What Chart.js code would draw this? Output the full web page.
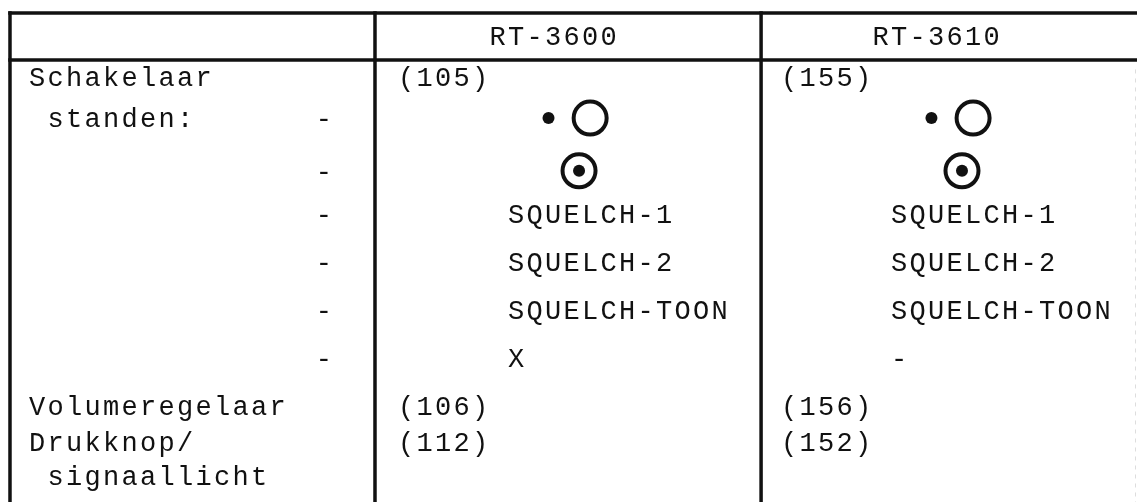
<!DOCTYPE html>
<html lang="nl">
<head>
<meta charset="utf-8">
<title>Schakelaarstanden RT-3600 / RT-3610</title>
<script src="https://cdn.jsdelivr.net/npm/chart.js@4.4.1/dist/chart.umd.min.js"></script>
<style>
  html, body { margin: 0; padding: 0; background: #fff; }
  #wrap { width: 1137px; height: 502px; }
</style>
</head>
<body>
<div id="wrap"><canvas id="tabel" width="1137" height="502"></canvas></div>
<script>
// Kolomkoppen
const headers = ['RT-3600', 'RT-3610'];

// Eerste kolom, regel voor regel
const partLabels = ['Schakelaar', ' standen:', '', '', '', '', '', 'Volumeregelaar', 'Drukknop/', ' signaallicht'];
const dashMarks = ['', '-', '-', '-', '-', '-', '-', '', '', ''];

// Referentienummers per toestel
const rt3600Refs = ['(105)', '', '', '', '', '', '', '(106)', '(112)', ''];
const rt3610Refs = ['(155)', '', '', '', '', '', '', '(156)', '(152)', ''];

// Standen per toestel ('•○' en '⊙' worden als symbool getekend)
const rt3600Pos = ['', '•○', '⊙', 'SQUELCH-1', 'SQUELCH-2', 'SQUELCH-TOON', 'X', '', '', ''];
const rt3610Pos = ['', '•○', '⊙', 'SQUELCH-1', 'SQUELCH-2', 'SQUELCH-TOON', '-', '', '', ''];

// Regel waarop elke rij staat (in halve typmachineregels)
const rowLines = [3.3, 5, 7.2, 9, 11, 13, 15, 17, 18.5, 19.9];

// Opmaak: x in tekenposities, y in halve regels
const LABEL_COL = 1.5;
const DASH_COL = 17;
const HEAD_COL = [26.4, 47.1];
const REF_COL = [21.45, 42.15];
const POS_COL = [27.4, 48.1];
const HEAD_LINE = 1.58;
const RULE_X = [0.54, 20.27, 41.14];
const RULE_Y = [0.62, 2.58];
const FONT_SIZE = 27;
const INK = '#111';

// Symbolen omzetten naar punten voor Chart.js
const rings = [];
const dots = [];
[rt3600Pos, rt3610Pos].forEach((col, c) => {
    col.forEach((val, r) => {
        if (val === '•○') {
            dots.push({ x: POS_COL[c] + 2.25, y: rowLines[r] });
            rings.push({ x: POS_COL[c] + 4.5, y: rowLines[r] });
        } else if (val === '⊙') {
            rings.push({ x: POS_COL[c] + 3.9, y: rowLines[r] });
            dots.push({ x: POS_COL[c] + 3.9, y: rowLines[r] });
        }
    });
});

// Tekst teken voor teken, zoals een typmachine
function typeText(ctx, xScale, yScale, text, col, line) {
    if (!text || text === '•○' || text === '⊙') return;
    const base = yScale.getPixelForValue(line) + FONT_SIZE * 0.33;
    for (let i = 0; i < text.length; i++) {
        if (text[i] === ' ') continue;
        ctx.fillText(text[i], xScale.getPixelForValue(col + i + 0.5), base);
    }
}

const tablePlugin = {
    id: 'tablePlugin',
    beforeDatasetsDraw(chart) {
        const { ctx, scales: { x, y } } = chart;
        ctx.save();
        ctx.strokeStyle = INK;
        ctx.lineWidth = 3.5;
        ctx.lineCap = 'square';
        RULE_Y.forEach(v => {
            ctx.beginPath();
            ctx.moveTo(x.getPixelForValue(RULE_X[0]), y.getPixelForValue(v));
            ctx.lineTo(x.getPixelForValue(x.max), y.getPixelForValue(v));
            ctx.stroke();
        });
        RULE_X.forEach(v => {
            ctx.beginPath();
            ctx.moveTo(x.getPixelForValue(v), y.getPixelForValue(RULE_Y[0]));
            ctx.lineTo(x.getPixelForValue(v), y.getPixelForValue(y.max) + 4);
            ctx.stroke();
        });
        // vage rechterrand
        ctx.strokeStyle = '#ddd';
        ctx.lineWidth = 1;
        ctx.setLineDash([3, 6]);
        ctx.beginPath();
        ctx.moveTo(x.getPixelForValue(x.max) - 1.5, y.getPixelForValue(RULE_Y[1]) + 10);
        ctx.lineTo(x.getPixelForValue(x.max) - 1.5, y.getPixelForValue(y.max));
        ctx.stroke();
        ctx.restore();
    },
    afterDatasetsDraw(chart) {
        const { ctx, scales: { x, y } } = chart;
        ctx.save();
        ctx.fillStyle = INK;
        ctx.font = FONT_SIZE + 'px "Liberation Mono", "DejaVu Sans Mono", monospace';
        ctx.textAlign = 'center';
        ctx.textBaseline = 'alphabetic';

        headers.forEach((h, c) => typeText(ctx, x, y, h, HEAD_COL[c], HEAD_LINE));

        rowLines.forEach((line, r) => {
            typeText(ctx, x, y, partLabels[r], LABEL_COL, line);
            typeText(ctx, x, y, dashMarks[r], DASH_COL, line);
            typeText(ctx, x, y, rt3600Refs[r], REF_COL[0], line);
            typeText(ctx, x, y, rt3610Refs[r], REF_COL[1], line);
            typeText(ctx, x, y, rt3600Pos[r], POS_COL[0], line);
            typeText(ctx, x, y, rt3610Pos[r], POS_COL[1], line);
        });
        ctx.restore();
    }
};

new Chart(document.getElementById('tabel'), {
    type: 'scatter',
    data: {
        datasets: [
            {
                label: 'ring',
                data: rings,
                pointStyle: 'circle',
                pointRadius: 16.5,
                pointBorderWidth: 4,
                pointBackgroundColor: 'rgba(0,0,0,0)',
                pointBorderColor: INK
            },
            {
                label: 'punt',
                data: dots,
                pointStyle: 'circle',
                pointRadius: 6,
                pointBorderWidth: 0,
                pointBackgroundColor: INK,
                pointBorderColor: INK
            }
        ]
    },
    options: {
        responsive: false,
        animation: false,
        devicePixelRatio: 1,
        layout: { padding: 0, autoPadding: false },
        plugins: {
            legend: { display: false },
            tooltip: { enabled: false }
        },
        scales: {
            x: { type: 'linear', min: 0, max: 61.46, display: false },
            y: { type: 'linear', min: 0.08, max: 21.0, reverse: true, display: false }
        }
    },
    plugins: [tablePlugin]
});
</script>
</body>
</html>
